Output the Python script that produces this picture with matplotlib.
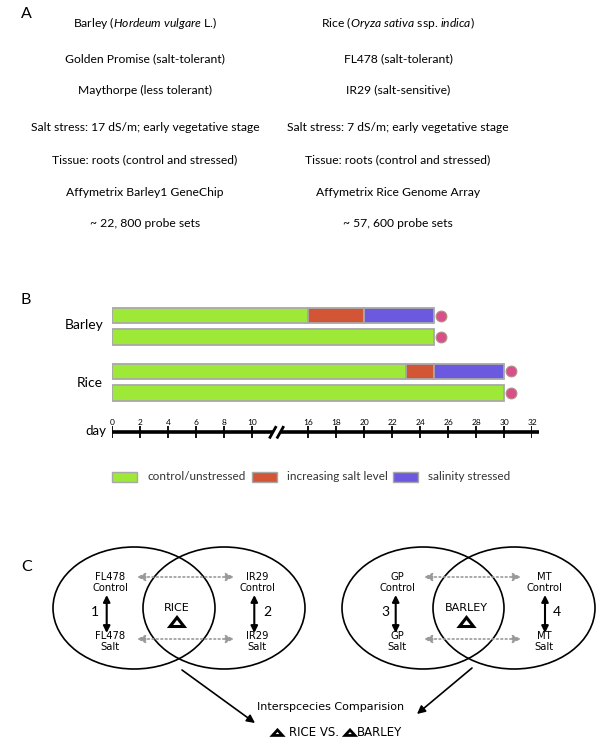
import numpy as np
import matplotlib
matplotlib.use("Agg")
import matplotlib.pyplot as plt
from matplotlib.patches import Ellipse, Polygon, Rectangle

plt.rcParams["font.family"] = ["Lato", "DejaVu Sans"]
plt.rcParams["mathtext.fontset"] = "custom"
plt.rcParams["mathtext.rm"] = "Lato"
plt.rcParams["mathtext.it"] = "Lato:italic"

# ---- panel A: study design ----
barley_lines = [
    r"Barley ($\mathit{Hordeum\ vulgare}$ L.)",
    "Golden Promise (salt-tolerant)",
    "Maythorpe (less tolerant)",
    "Salt stress: 17 dS/m; early vegetative stage",
    "Tissue: roots (control and stressed)",
    "Affymetrix Barley1 GeneChip",
    "~ 22, 800 probe sets",
]
rice_lines = [
    r"Rice ($\mathit{Oryza\ sativa}$ ssp. $\mathit{indica}$)",
    "FL478 (salt-tolerant)",
    "IR29 (salt-sensitive)",
    "Salt stress: 7 dS/m; early vegetative stage",
    "Tissue: roots (control and stressed)",
    "Affymetrix Rice Genome Array",
    "~ 57, 600 probe sets",
]

# ---- panel B: growth timeline (day boundaries of each phase) ----
crops = ["Barley", "Rice"]
phases = ["control/unstressed", "increasing salt level", "salinity stressed"]
phase_colors = ["#9ee838", "#d25535", "#6b5ae0"]
barley_stressed = [0, 16, 20, 25]
barley_control = [0, 25]
rice_stressed = [0, 23, 25, 30]
rice_control = [0, 30]
day_ticks = [0, 2, 4, 6, 8, 10, 16, 18, 20, 22, 24, 26, 28, 30, 32]

# ---- panel C: comparisons ----
rice_genotypes = ["FL478", "IR29"]
barley_genotypes = ["GP", "MT"]
comparison_ids = ["1", "2", "3", "4"]


# broken day axis: days 10-16 are squeezed into 4 units
brk_days = [-20, 10, 16, 60]
brk_axis = [-20, 10, 14, 58]


def fwd(d):
    return np.interp(d, brk_days, brk_axis)


def inv(u):
    return np.interp(u, brk_axis, brk_days)


fig = plt.figure(figsize=(6, 7.45), dpi=100)
ov = fig.add_axes([0, 0, 1, 1])
ov.set_xlim(0, 600)
ov.set_ylim(745, 0)
ov.axis("off")

for lab, (x, y) in zip("ABC", [(26, 14), (26, 300), (27, 567)]):
    ov.text(x, y, lab, fontsize=11.5, ha="center", va="center")

row_y = [23.3, 58.3, 90, 127.7, 160, 193, 223.3]
for txt, y in zip(barley_lines, row_y):
    ov.text(145, y, txt, fontsize=8.7, ha="center", va="center")
for txt, y in zip(rice_lines, row_y):
    ov.text(398, y, txt, fontsize=8.7, ha="center", va="center")

# panel B
axb = fig.add_axes([112.3 / 600, 1 - 445 / 745, 420 / 600, 145 / 745])
axb.set_xscale("function", functions=(fwd, inv))
axb.set_xlim(0, 32)
axb.set_ylim(445, 300)
axb.axis("off")

bar_rows = [(barley_stressed, 315.5), (barley_control, 337),
            (rice_stressed, 371.3), (rice_control, 393)]
for bounds, y in bar_rows:
    b = np.array(bounds)
    axb.barh(y, np.diff(b), left=b[:-1], height=15.5,
             color=phase_colors[:len(b) - 1], edgecolor="#a8a8a8", lw=1.3)
    axb.scatter(b[-1] + 0.5, y, s=60, color="#d94f8c", edgecolors="#b09080",
                lw=0.8, zorder=3, clip_on=False)

line_y = 432.3
axb.plot([0, 12.2], [line_y, line_y], color="black", lw=2.6, solid_capstyle="butt", clip_on=False)
axb.plot([13.0, 32.5], [line_y, line_y], color="black", lw=2.6, solid_capstyle="butt", clip_on=False)
for d in [12.2, 13.0]:
    axb.plot([d - 0.3, d + 0.3], [line_y + 5, line_y - 5], color="black", lw=2, clip_on=False)
axb.vlines(day_ticks, line_y - 6, line_y + 6, color="black", lw=1.3)
for d in day_ticks:
    axb.text(d, line_y - 10, str(d), fontsize=6, ha="center", va="center")

ov.text(106.7, line_y - 1, "day", fontsize=9.5, ha="right", va="center")
ov.text(103, 325, crops[0], fontsize=10, ha="right", va="center")
ov.text(103, 382.7, crops[1], fontsize=10, ha="right", va="center")

leg_x = [(112, 147), (252, 287), (393, 428)]
for (bx, tx), col, name in zip(leg_x, phase_colors, phases):
    ov.add_patch(Rectangle((bx, 471.7), 25, 10.6, facecolor=col, edgecolor="#a8a8a8", lw=1))
    ov.text(tx, 477, name, fontsize=8.5, ha="left", va="center", color="#333333")


# panel C
def tri(x, y, w, h, lw):
    ov.add_patch(Polygon([(x - w / 2, y + h / 2), (x + w / 2, y + h / 2), (x, y - h / 2)],
                         closed=True, facecolor="white", edgecolor="black", lw=lw,
                         joinstyle="miter"))


def species_block(cx, genos, ids, label, gx, ax_x, num_x):
    for c in cx:
        ov.add_patch(Ellipse((c, 608), 162, 122, fill=False, edgecolor="black", lw=1.2))
    for g, x, axx, nid, nx in zip(genos, gx, ax_x, ids, num_x):
        ov.text(x, 577, g, fontsize=7.2, ha="center", va="center", family="DejaVu Sans")
        ov.text(x, 588, "Control", fontsize=7.2, ha="center", va="center", family="DejaVu Sans")
        ov.text(x, 636, g, fontsize=7.2, ha="center", va="center", family="DejaVu Sans")
        ov.text(x, 647, "Salt", fontsize=7.2, ha="center", va="center", family="DejaVu Sans")
        ov.annotate("", xy=(axx, 633), xytext=(axx, 595),
                    arrowprops=dict(arrowstyle="<|-|>", color="black", lw=1.5,
                                    mutation_scale=10, shrinkA=0, shrinkB=0))
        ov.text(nx, 612, nid, fontsize=10, ha="center", va="center")
    for y in [577, 639]:
        ov.annotate("", xy=(gx[1] - 23, y), xytext=(gx[0] + 27, y),
                    arrowprops=dict(arrowstyle="<|-|>", color="#999999", lw=1.2, ls=":",
                                    mutation_scale=12, shrinkA=0, shrinkB=0))
    mid = (cx[0] + cx[1]) / 2
    ov.text(mid - 2, 607.7, label, fontsize=8, ha="center", va="center", family="DejaVu Sans")
    tri(mid - 2, 622, 14, 9, 2.2)


species_block([134, 224], rice_genotypes, comparison_ids[:2], "RICE",
              [110, 257], [106.7, 254.3], [95, 267])
species_block([423, 514], barley_genotypes, comparison_ids[2:], "BARLEY",
              [397, 544], [395.7, 545], [385, 557])

ov.annotate("", xy=(255, 723), xytext=(182, 670),
            arrowprops=dict(arrowstyle="-|>", color="black", lw=1.2,
                            mutation_scale=12, shrinkA=0, shrinkB=0))
ov.annotate("", xy=(417, 714), xytext=(472, 668),
            arrowprops=dict(arrowstyle="-|>", color="black", lw=1.2,
                            mutation_scale=12, shrinkA=0, shrinkB=0))
ov.text(330.5, 707, "Interspcecies Comparision", fontsize=8, ha="center", va="center",
        family="DejaVu Sans")
tri(277.5, 732.7, 10, 5.5, 2)
ov.text(289, 732.7, "RICE VS.", fontsize=8.5, ha="left", va="center", family="DejaVu Sans")
tri(350, 732.7, 10, 5.5, 2)
ov.text(356.7, 732.7, "BARLEY", fontsize=8.5, ha="left", va="center", family="DejaVu Sans")

fig.savefig("out.png", dpi=100)
